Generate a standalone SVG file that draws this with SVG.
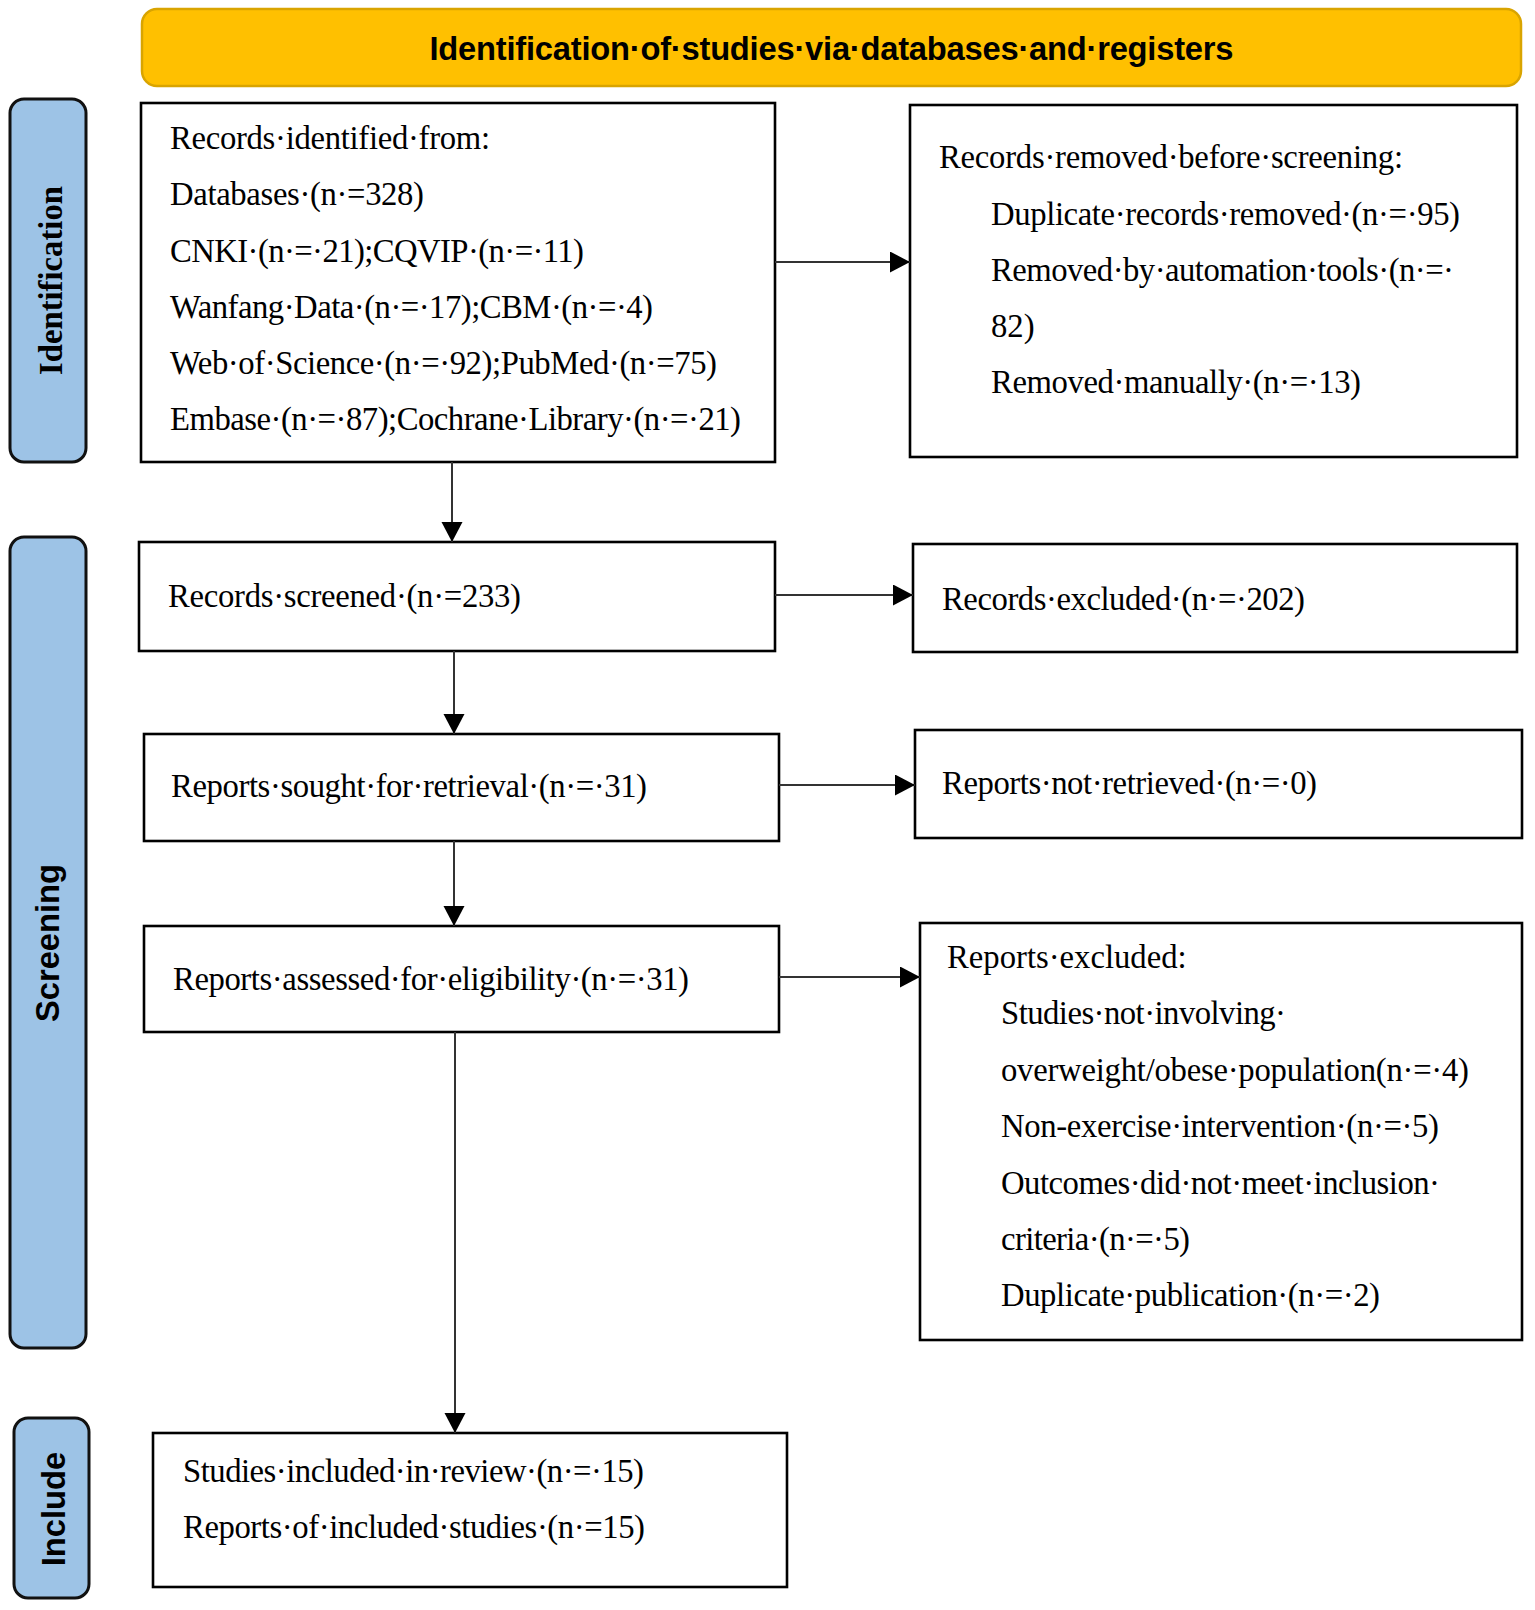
<svg xmlns="http://www.w3.org/2000/svg" width="1535" height="1610" viewBox="0 0 1535 1610">
<style>
.bg{fill:#ffffff}
.box{fill:#ffffff;stroke:#000000;stroke-width:2.6}
.side{fill:#9DC3E6;stroke:#111111;stroke-width:3}
.banner{fill:#FFC000;stroke:#D9A400;stroke-width:2.5}
.t{font-family:"Liberation Serif","Times New Roman",serif;font-size:32.7px;fill:#000000}
.bt{font-family:"Liberation Sans",Arial,sans-serif;font-size:32.7px;font-weight:bold;fill:#000000}
.st{font-family:"Liberation Serif","Times New Roman",serif;font-size:32.7px;font-weight:bold;fill:#000000}
.conn{stroke:#333333;stroke-width:2;fill:none}
</style>
<defs>
<marker id="arr" markerUnits="userSpaceOnUse" markerWidth="20" markerHeight="22" refX="20" refY="10.5" orient="auto">
<path d="M0,0 L20,10.5 L0,21 z" fill="#000000"/>
</marker>
</defs>
<rect class="bg" x="0" y="0" width="1535" height="1610"/>

<g id="banner">
<rect class="banner" x="142" y="9" width="1379" height="77" rx="15" ry="15"/>
<text class="bt" x="831.5" y="60" text-anchor="middle" textLength="804">Identification·of·studies·via·databases·and·registers</text>
</g>

<g id="side-identification">
<rect class="side" x="10" y="99" width="76" height="363" rx="14" ry="14"/>
<text class="st" transform="translate(62,280.5) rotate(-90)" text-anchor="middle">Identification</text>
</g>
<g id="side-screening">
<rect class="side" x="10" y="537" width="76" height="811" rx="14" ry="14"/>
<text class="bt" transform="translate(58.5,943) rotate(-90)" text-anchor="middle">Screening</text>
</g>
<g id="side-include">
<rect class="side" x="14" y="1418" width="75" height="180" rx="14" ry="14"/>
<text class="bt" transform="translate(65,1509) rotate(-90)" text-anchor="middle">Include</text>
</g>

<g id="records-identified">
<rect class="box" x="141" y="103" width="634" height="359"/>
<text class="t" x="170" y="149" textLength="320">Records·identified·from:</text>
<text class="t" x="170" y="205" textLength="254">Databases·(n·=328)</text>
<text class="t" x="170" y="261.5" textLength="414">CNKI·(n·=·21);CQVIP·(n·=·11)</text>
<text class="t" x="170" y="317.5" textLength="483">Wanfang·Data·(n·=·17);CBM·(n·=·4)</text>
<text class="t" x="170" y="373.5" textLength="547">Web·of·Science·(n·=·92);PubMed·(n·=75)</text>
<text class="t" x="170" y="430" textLength="571">Embase·(n·=·87);Cochrane·Library·(n·=·21)</text>
</g>

<g id="records-removed">
<rect class="box" x="910" y="105" width="607" height="352"/>
<text class="t" x="939" y="168" textLength="464">Records·removed·before·screening:</text>
<text class="t" x="991" y="225" textLength="469">Duplicate·records·removed·(n·=·95)</text>
<text class="t" x="991" y="281" textLength="463">Removed·by·automation·tools·(n·=·</text>
<text class="t" x="991" y="337">82)</text>
<text class="t" x="991" y="393" textLength="370">Removed·manually·(n·=·13)</text>
</g>

<g id="records-screened">
<rect class="box" x="139" y="542" width="636" height="109"/>
<text class="t" x="168" y="607" textLength="353">Records·screened·(n·=233)</text>
</g>

<g id="records-excluded">
<rect class="box" x="913" y="544" width="604" height="108"/>
<text class="t" x="942" y="610" textLength="363">Records·excluded·(n·=·202)</text>
</g>

<g id="reports-sought">
<rect class="box" x="144" y="734" width="635" height="107"/>
<text class="t" x="171" y="797" textLength="476">Reports·sought·for·retrieval·(n·=·31)</text>
</g>

<g id="reports-not-retrieved">
<rect class="box" x="915" y="730" width="607" height="108"/>
<text class="t" x="942" y="794" textLength="375">Reports·not·retrieved·(n·=·0)</text>
</g>

<g id="reports-assessed">
<rect class="box" x="144" y="926" width="635" height="106"/>
<text class="t" x="173" y="990" textLength="516">Reports·assessed·for·eligibility·(n·=·31)</text>
</g>

<g id="reports-excluded">
<rect class="box" x="920" y="923" width="602" height="417"/>
<text class="t" x="947" y="968">Reports·excluded:</text>
<text class="t" x="1001" y="1024" textLength="285">Studies·not·involving·</text>
<text class="t" x="1001" y="1081" textLength="468">overweight/obese·population(n·=·4)</text>
<text class="t" x="1001" y="1137" textLength="438">Non-exercise·intervention·(n·=·5)</text>
<text class="t" x="1001" y="1194" textLength="439">Outcomes·did·not·meet·inclusion·</text>
<text class="t" x="1001" y="1250" textLength="189">criteria·(n·=·5)</text>
<text class="t" x="1001" y="1306" textLength="379">Duplicate·publication·(n·=·2)</text>
</g>

<g id="studies-included">
<rect class="box" x="153" y="1433" width="634" height="154"/>
<text class="t" x="183" y="1482" textLength="461">Studies·included·in·review·(n·=·15)</text>
<text class="t" x="183" y="1538" textLength="462">Reports·of·included·studies·(n·=15)</text>
</g>

<g id="connectors">
<line class="conn" x1="452" y1="462" x2="452" y2="542" marker-end="url(#arr)"/>
<line class="conn" x1="775" y1="262" x2="910" y2="262" marker-end="url(#arr)"/>
<line class="conn" x1="454" y1="651" x2="454" y2="734" marker-end="url(#arr)"/>
<line class="conn" x1="775" y1="595" x2="913" y2="595" marker-end="url(#arr)"/>
<line class="conn" x1="454" y1="841" x2="454" y2="926" marker-end="url(#arr)"/>
<line class="conn" x1="779" y1="785" x2="915" y2="785" marker-end="url(#arr)"/>
<line class="conn" x1="455" y1="1032" x2="455" y2="1433" marker-end="url(#arr)"/>
<line class="conn" x1="779" y1="977" x2="920" y2="977" marker-end="url(#arr)"/>
</g>
</svg>
